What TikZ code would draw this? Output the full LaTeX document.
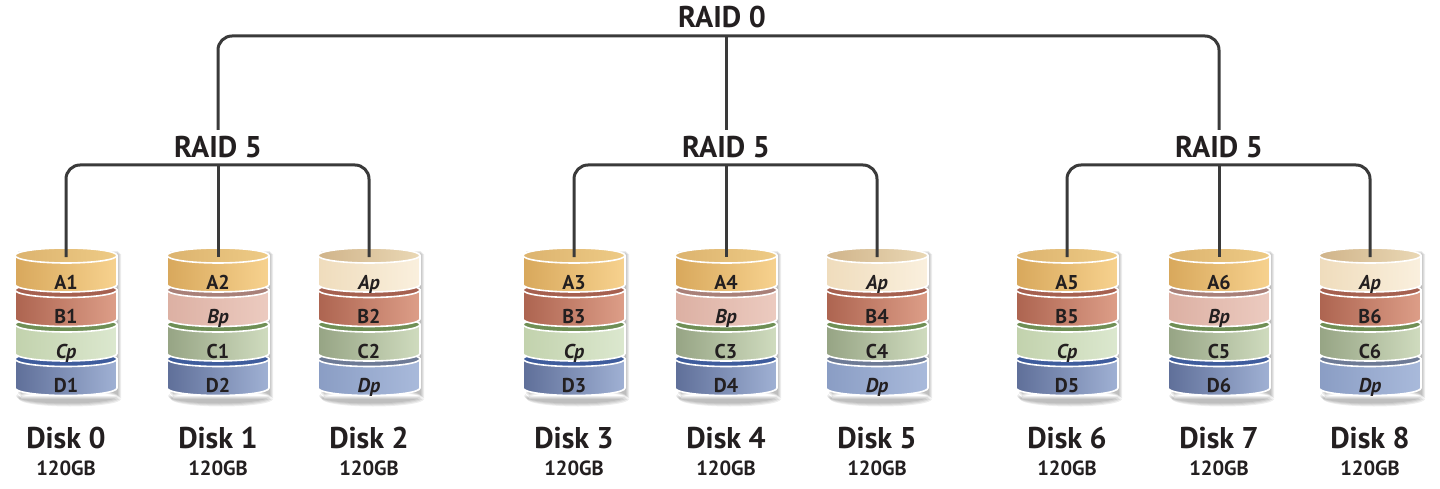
\documentclass[tikz,border=0pt]{standalone}
\usepackage{fontspec}
\setmainfont{PT Sans}
\usepackage{tikz}
\usetikzlibrary{positioning}

\definecolor{linkgrey}{HTML}{3A3A3A}
\definecolor{txt}{HTML}{231F20}

% one band of a disk stack: x, level, type, label, name
\newcommand{\layer}[5]{%
  \pgfmathsetmacro\yt{255.5+34.5*#2}
  \path[Lay#3, draw=white, line width=1.6pt] (#1-51,\yt) -- (#1-51,\yt+29) arc[start angle=180, end angle=0, x radius=51, y radius=7.5] -- (#1+51,\yt) -- cycle;
  \path[Top#3, draw=white, line width=1.6pt] (#1,\yt) ellipse[x radius=51, y radius=7.5];
  \node[Lbl#3] (#5) at (#1,\yt+33.5) {#4};
}

\begin{document}
\begin{tikzpicture}[x=1pt, y=-1pt]
		\tikzstyle{Link}   = [line width=3pt, linkgrey, rounded corners=14pt]
		\tikzstyle{Raid}   = [font=\fontsize{30}{30}\selectfont\bfseries, text=txt, anchor=base, inner sep=0pt]
		\tikzstyle{Disk}   = [font=\fontsize{30}{30}\selectfont\bfseries, text=txt, anchor=base, inner sep=0pt]
		\tikzstyle{Size}   = [font=\fontsize{20.5}{20.5}\selectfont\bfseries, text=txt, anchor=base, inner sep=0pt]
		\tikzstyle{Lbl}    = [font=\fontsize{20}{20}\selectfont\bfseries, text=txt, anchor=base, inner sep=0pt]
		\tikzstyle{LblPar} = [font=\fontsize{20}{20}\selectfont\bfseries\itshape, text=txt, anchor=base, inner sep=0pt]
		\tikzstyle{Shade}  = [black, opacity=0.07]

		\tikzstyle{LayA}  = [left color={rgb,255:red,216;green,168;blue,92}, right color={rgb,255:red,247;green,210;blue,143}]
		\tikzstyle{TopA}  = [left color={rgb,255:red,220;green,179;blue,110}, right color={rgb,255:red,238;green,203;blue,134}]
		\tikzstyle{LblA}  = [Lbl]
		\tikzstyle{LayAp} = [left color={rgb,255:red,239;green,220;blue,188}, right color={rgb,255:red,250;green,240;blue,222}]
		\tikzstyle{TopAp} = [left color={rgb,255:red,208;green,180;blue,138}, right color={rgb,255:red,234;green,216;blue,181}]
		\tikzstyle{LblAp} = [LblPar]
		\tikzstyle{LayB}  = [left color={rgb,255:red,173;green,100;blue,80}, right color={rgb,255:red,221;green,158;blue,136}]
		\tikzstyle{TopB}  = [fill={rgb,255:red,165;green,96;blue,79}]
		\tikzstyle{LblB}  = [Lbl]
		\tikzstyle{LayBp} = [left color={rgb,255:red,220;green,176;blue,163}, right color={rgb,255:red,236;green,203;blue,192}]
		\tikzstyle{TopBp} = [fill={rgb,255:red,168;green,128;blue,120}]
		\tikzstyle{LblBp} = [LblPar]
		\tikzstyle{LayC}  = [left color={rgb,255:red,150;green,164;blue,132}, right color={rgb,255:red,208;green,220;blue,191}]
		\tikzstyle{TopC}  = [fill={rgb,255:red,111;green,143;blue,85}]
		\tikzstyle{LblC}  = [Lbl]
		\tikzstyle{LayCp} = [left color={rgb,255:red,194;green,210;blue,173}, right color={rgb,255:red,220;green,232;blue,207}]
		\tikzstyle{TopCp} = [fill={rgb,255:red,111;green,143;blue,85}]
		\tikzstyle{LblCp} = [LblPar]
		\tikzstyle{LayD}  = [left color={rgb,255:red,95;green,111;blue,153}, right color={rgb,255:red,160;green,177;blue,212}]
		\tikzstyle{TopD}  = [fill={rgb,255:red,62;green,92;blue,156}]
		\tikzstyle{LblD}  = [Lbl]
		\tikzstyle{LayDp} = [left color={rgb,255:red,138;green,157;blue,196}, right color={rgb,255:red,169;green,186;blue,219}]
		\tikzstyle{TopDp} = [fill={rgb,255:red,109;green,122;blue,149}]
		\tikzstyle{LblDp} = [LblPar]

		\useasboundingbox (0,0) rectangle (1440,489);

		% disks: number / x / four bands from top to bottom
		\foreach \n/\x/\ta/\la/\tb/\lb/\tc/\lc/\td/\ld in {
				0/66/A/A1/B/B1/Cp/Cp/D/D1,
				1/218/A/A2/Bp/Bp/C/C1/D/D2,
				2/369/Ap/Ap/B/B2/C/C2/Dp/Dp,
				3/574/A/A3/B/B3/Cp/Cp/D/D3,
				4/726/A/A4/Bp/Bp/C/C3/D/D4,
				5/877/Ap/Ap/B/B4/C/C4/Dp/Dp,
				6/1067/A/A5/B/B5/Cp/Cp/D/D5,
				7/1219/A/A6/Bp/Bp/C/C5/D/D6,
				8/1370/Ap/Ap/B/B6/C/C6/Dp/Dp}{
			\foreach \s in {1,...,4}
				\fill[Shade] (\x-49+\s,250+\s) rectangle (\x+51+\s,395+\s) (\x+\s,395+\s) ellipse[x radius=51, y radius=7.5];
			\layer{\x}{3}{\td}{\ld}{l\n d}
			\layer{\x}{2}{\tc}{\lc}{l\n c}
			\layer{\x}{1}{\tb}{\lb}{l\n b}
			\layer{\x}{0}{\ta}{\la}{l\n a}
			\coordinate (d\n) at (\x,257);
			\node (k\n) at (\x,448.5) [Disk] {Disk \n};
			\node (s\n) at (\x,475) [Size] {120GB};
		}

		\node (r0) at (722,27.5) [Raid] {RAID 0};
		\node (r1) at (218,157.5) [Raid] {RAID 5};
		\node (r2) at (726,157.5) [Raid] {RAID 5};
		\node (r3) at (1219,157.5) [Raid] {RAID 5};

		\coordinate (j0) at (726,36);
		\coordinate (j1) at (218,165);
		\coordinate (j2) at (726,165);
		\coordinate (j3) at (1219,165);
		\coordinate (t1) at (218,130);
		\coordinate (t2) at (726,130);
		\coordinate (t3) at (1219,130);

		\draw [Link] (t1) |- (j0) -| (t3);
		\draw [Link] (j0) -- (t2);
		\draw [Link] (d0) |- (j1) -| (d2);
		\draw [Link] (j1) -- (d1);
		\draw [Link] (d3) |- (j2) -| (d5);
		\draw [Link] (j2) -- (d4);
		\draw [Link] (d6) |- (j3) -| (d8);
		\draw [Link] (j3) -- (d7);
	\end{tikzpicture}
\end{document}
